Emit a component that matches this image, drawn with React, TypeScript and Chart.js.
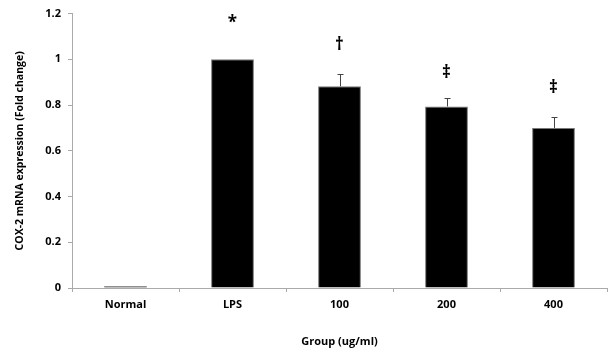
import React, { useEffect, useRef } from "react";
import { Chart, registerables } from "chart.js";

Chart.register(...registerables);

const categories = ["Normal", "LPS", "100", "200", "400"];
const values = [0.008, 1.0, 0.882, 0.794, 0.7];
const errors = [0, 0, 0.056, 0.035, 0.049];
const marks = ["", "*", "†", "‡", "‡"];
const markValues = [0, 1.16, 1.06, 0.94, 0.875];
const yTicks = [0, 0.2, 0.4, 0.6, 0.8, 1, 1.2];

const FONT = "'Open Sans', 'Noto Sans', sans-serif";

const overlay = {
  id: "overlay",
  afterDatasetsDraw(chart: any) {
    const ctx = chart.ctx;
    const x = chart.scales.x;
    const y = chart.scales.y;
    ctx.save();
    ctx.strokeStyle = "#444";
    ctx.lineWidth = 1;
    values.forEach((v, i) => {
      if (!errors[i]) return;
      const cx = Math.round(x.getPixelForValue(i)) + 0.5;
      const y0 = y.getPixelForValue(v);
      const y1 = Math.round(y.getPixelForValue(v + errors[i])) + 0.5;
      ctx.beginPath();
      ctx.moveTo(cx, y0);
      ctx.lineTo(cx, y1);
      ctx.moveTo(cx - 3, y1);
      ctx.lineTo(cx + 3, y1);
      ctx.stroke();
    });
    ctx.fillStyle = "#000";
    ctx.textAlign = "center";
    ctx.textBaseline = "middle";
    ctx.font = `bold 17px ${FONT}`;
    marks.forEach((m, i) => {
      if (!m) return;
      ctx.fillText(m, x.getPixelForValue(i), y.getPixelForValue(markValues[i]));
    });
    ctx.restore();
  },
};

export default function App() {
  const ref = useRef<HTMLCanvasElement>(null);
  useEffect(() => {
    const chart = new Chart(ref.current!, {
      type: "bar",
      data: {
        labels: categories,
        datasets: [
          {
            data: values,
            backgroundColor: "#000",
            borderColor: ["#333", "#777", "#777", "#777", "#777"],
            borderWidth: 1,
            barPercentage: 0.4,
            categoryPercentage: 1,
          },
        ],
      },
      options: {
        animation: false,
        responsive: false,
        maintainAspectRatio: false,
        layout: { padding: { top: 10, right: 3, left: 14, bottom: 0 } },
        plugins: { legend: { display: false }, tooltip: { enabled: false } },
        scales: {
          x: {
            grid: { display: true, drawOnChartArea: false, tickLength: 4, color: "#aaa", offset: true },
            border: { color: "#aaa" },
            ticks: { color: "#000", font: { family: FONT, size: 11, weight: "bold" }, padding: 6 },
            title: {
              display: true,
              text: "Group (ug/ml)",
              color: "#000",
              font: { family: FONT, size: 11, weight: "bold" },
              padding: { top: 14, bottom: 2 },
            },
            afterFit(s: any) {
              s.height = 62;
            },
          },
          y: {
            min: 0,
            max: 1.2,
            afterBuildTicks(s: any) {
              s.ticks = yTicks.map((v) => ({ value: v }));
            },
            grid: { display: true, drawOnChartArea: false, tickLength: 4, color: "#aaa" },
            border: { color: "#aaa" },
            ticks: {
              color: "#000",
              font: { family: FONT, size: 11, weight: "bold" },
              padding: 7,
              callback: (v: any) => String(Math.round(Number(v) * 10) / 10),
            },
            title: {
              display: true,
              text: "COX-2 mRNA expression (Fold change)",
              color: "#000",
              font: { family: FONT, size: 10.5, weight: "bold" },
              padding: { top: 0, bottom: 0 },
            },
            afterFit(s: any) {
              s.width = 58;
            },
          },
        },
      },
      plugins: [overlay],
    });
    return () => chart.destroy();
  }, []);
  return (
    <div style={{ position: "absolute", left: 0, top: 0, width: 610, height: 350, background: "#fff" }}>
      <canvas ref={ref} width={610} height={350} />
    </div>
  );
}
